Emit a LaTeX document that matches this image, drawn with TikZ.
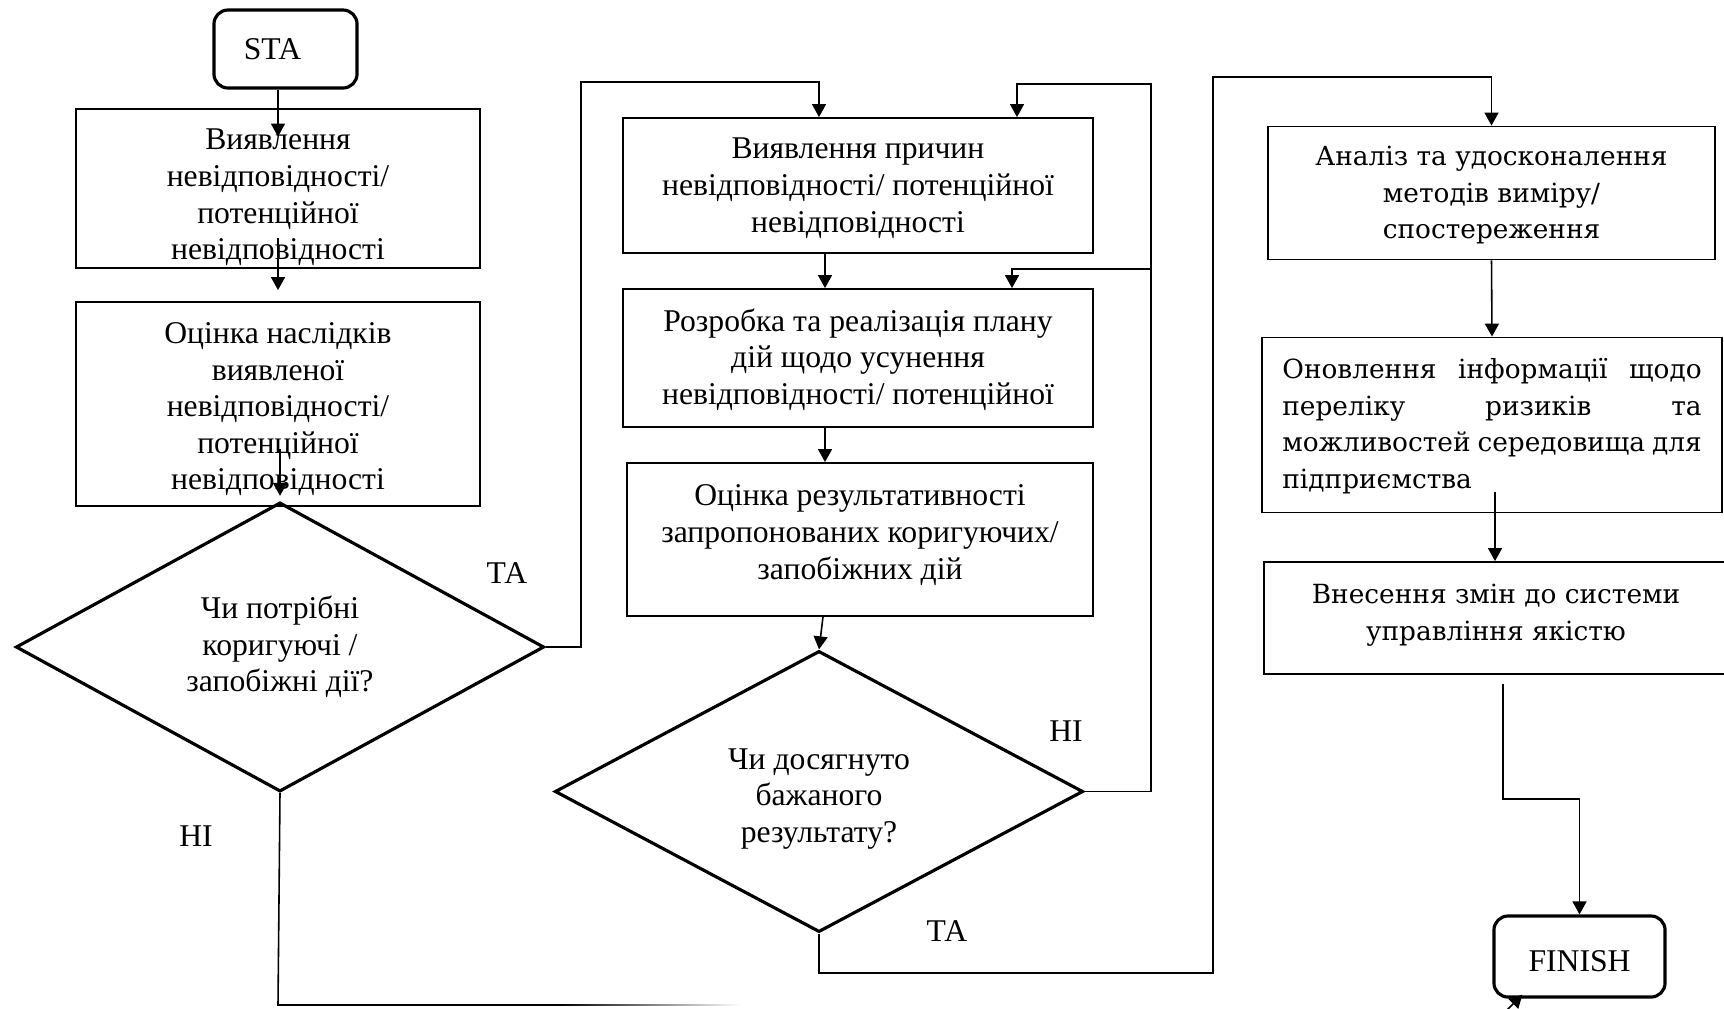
\documentclass[tikz,border=0pt]{standalone}
\usepackage{fontspec}
\setmainfont{Liberation Serif}
\newfontfamily\widefont{DejaVu Serif}
\usetikzlibrary{shapes.geometric,calc,arrows.meta}
\newcommand{\lift}[1]{\rule{0pt}{#1}}
\begin{document}
\begin{tikzpicture}[x=0.01cm,y=-0.01cm,>={Triangle[length=1.3mm,width=1.4mm]},
  font=\fontsize{9}{10.4}\selectfont,
  box/.style={draw,line width=0.5pt,inner xsep=2pt,inner ysep=0pt,align=center},
  widebox/.style={box,font=\widefont\fontsize{7.5}{10.5}\selectfont},
  decision/.style={draw,diamond,shape aspect=1.85,line width=0.9pt,inner sep=0pt,align=center},
  terminal/.style={draw,rounded corners=4pt,line width=0.9pt,inner sep=0pt},
  conn/.style={line width=0.45pt},
  lbl/.style={inner sep=0pt}]
\useasboundingbox (0,0) rectangle (1724,1008);

\node[terminal,minimum width=1.43cm,minimum height=0.78cm] (sta) at (285.5,49) {STA\kern7.4pt};
\node[box,minimum width=4.04cm,minimum height=1.59cm] (box1) at (278,188.5) {\lift{11pt}Виявлення\\невідповідності/\\потенційної\\невідповідності};
\node[box,minimum width=4.04cm,minimum height=2.04cm] (box2) at (278,404) {\lift{9pt}Оцінка наслідків\\виявленої\\невідповідності/\\потенційної\\невідповідності};
\node[decision,minimum width=5.28cm,minimum height=2.89cm] (d1) at (280,647) {Чи потрібні\\коригуючі /\\запобіжні дії?};

\node[box,minimum width=4.70cm,minimum height=1.35cm] (box3) at (858,185.5) {\lift{7.4pt}Виявлення причин\\невідповідності/ потенційної\\невідповідності};
\node[box,minimum width=4.70cm,minimum height=1.38cm] (box4) at (858,358) {\lift{7.4pt}Розробка та реалізація плану\\дій щодо усунення\\невідповідності/ потенційної};
\node[box,minimum width=4.66cm,minimum height=1.53cm,text depth=4.3pt] (box5) at (860,539.5) {Оцінка результативності\\запропонованих коригуючих/\\запобіжних дій};
\node[decision,minimum width=5.28cm,minimum height=2.81cm] (d2) at (819,791.5) {\lift{10pt}Чи досягнуто\\бажаного\\результату?};

\node[widebox,minimum width=4.47cm,minimum height=1.33cm] (box6) at (1491.5,193) {\lift{6.7pt}Аналіз та удосконалення\\методів виміру/\\спостереження};
\node[widebox,minimum width=4.60cm,minimum height=1.75cm,text width=4.19cm,align=left] (box7) at (1492,425) {\lift{6.4pt}Оновлення\hfill інформації\hfill щодо\\переліку\hfill ризиків\hfill та\\можливостей\hfill середовища\hfill для\\підприємства};
\node[widebox,minimum width=4.64cm,minimum height=1.12cm,text depth=3.5pt] (box8) at (1496,618) {Внесення змін до системи\\управління якістю};
\node[terminal,minimum width=1.71cm,minimum height=0.81cm] (fin) at (1579.5,956.5) {\lift{8.5pt}FINISH};

\node[lbl] (ta-a) at (507,573) {ТА};
\node[lbl] (ni-a) at (196,836) {НІ};
\node[lbl] (ni-b) at (1066,731) {НІ};
\node[lbl] (ta-b) at (947,931) {ТА};

\coordinate (ta1) at (581,82);
\coordinate (ni1) at (1151,269);
\coordinate (ni2) at (1151,84);
\coordinate (ta2) at (1213,973);
\coordinate (ta3) at (1213,77);
\coordinate (fin1) at (1503,799);
\coordinate (ni3) at (278,1005);
\coordinate (ni4) at (560,1005);
\coordinate (stub) at (1503,1014);

\draw[conn,->] (sta.south -| box1.north) -- ++(0,47);
\draw[conn,->] ($(box1.south)+(0,-31)$) -- ($(box2.north)+(0,-11)$);
\draw[conn,->] ($(box2.south)+(2,-58)$) -- ($(d1.north)+(0,-5)$);
\draw[conn,->] (d1.east) -| (ta1) -| ($(box3.north)+(-39,0)$);
\draw[conn] (d1.south) -- (ni3) -- (ni4);
\shade[left color=black,right color=white] (560,1004.2) rectangle (740,1005.8);

\draw[conn,->] ($(box3.south)+(-33,0)$) -- ($(box4.north)+(-33,0)$);
\draw[conn,->] ($(box4.south)+(-33,0)$) -- ($(box5.north)+(-35,0)$);
\draw[conn,->] ($(box5.south)+(-37,0)$) -- (d2.north);
\draw[conn,->] (d2.east) -| (ni1) -| ($(box4.north)+(154,0)$);
\draw[conn,->] (ni1) -- (ni2) -| ($(box3.north)+(159,0)$);
\draw[conn,->] (d2.south) |- (ta2) -- (ta3) -| (box6.north);

\draw[conn,->] (box6.south) -- (box7.north);
\draw[conn,->] ($(box7.south)+(3,-21)$) -- ($(box8.north)+(-1,0)$);
\draw[conn,->] ($(box8.south)+(7,9)$) -- (fin1) -| (fin.north);
\draw[conn,->] (stub) -- ($(fin.south west)+(30,-4)$);
\end{tikzpicture}
\end{document}
